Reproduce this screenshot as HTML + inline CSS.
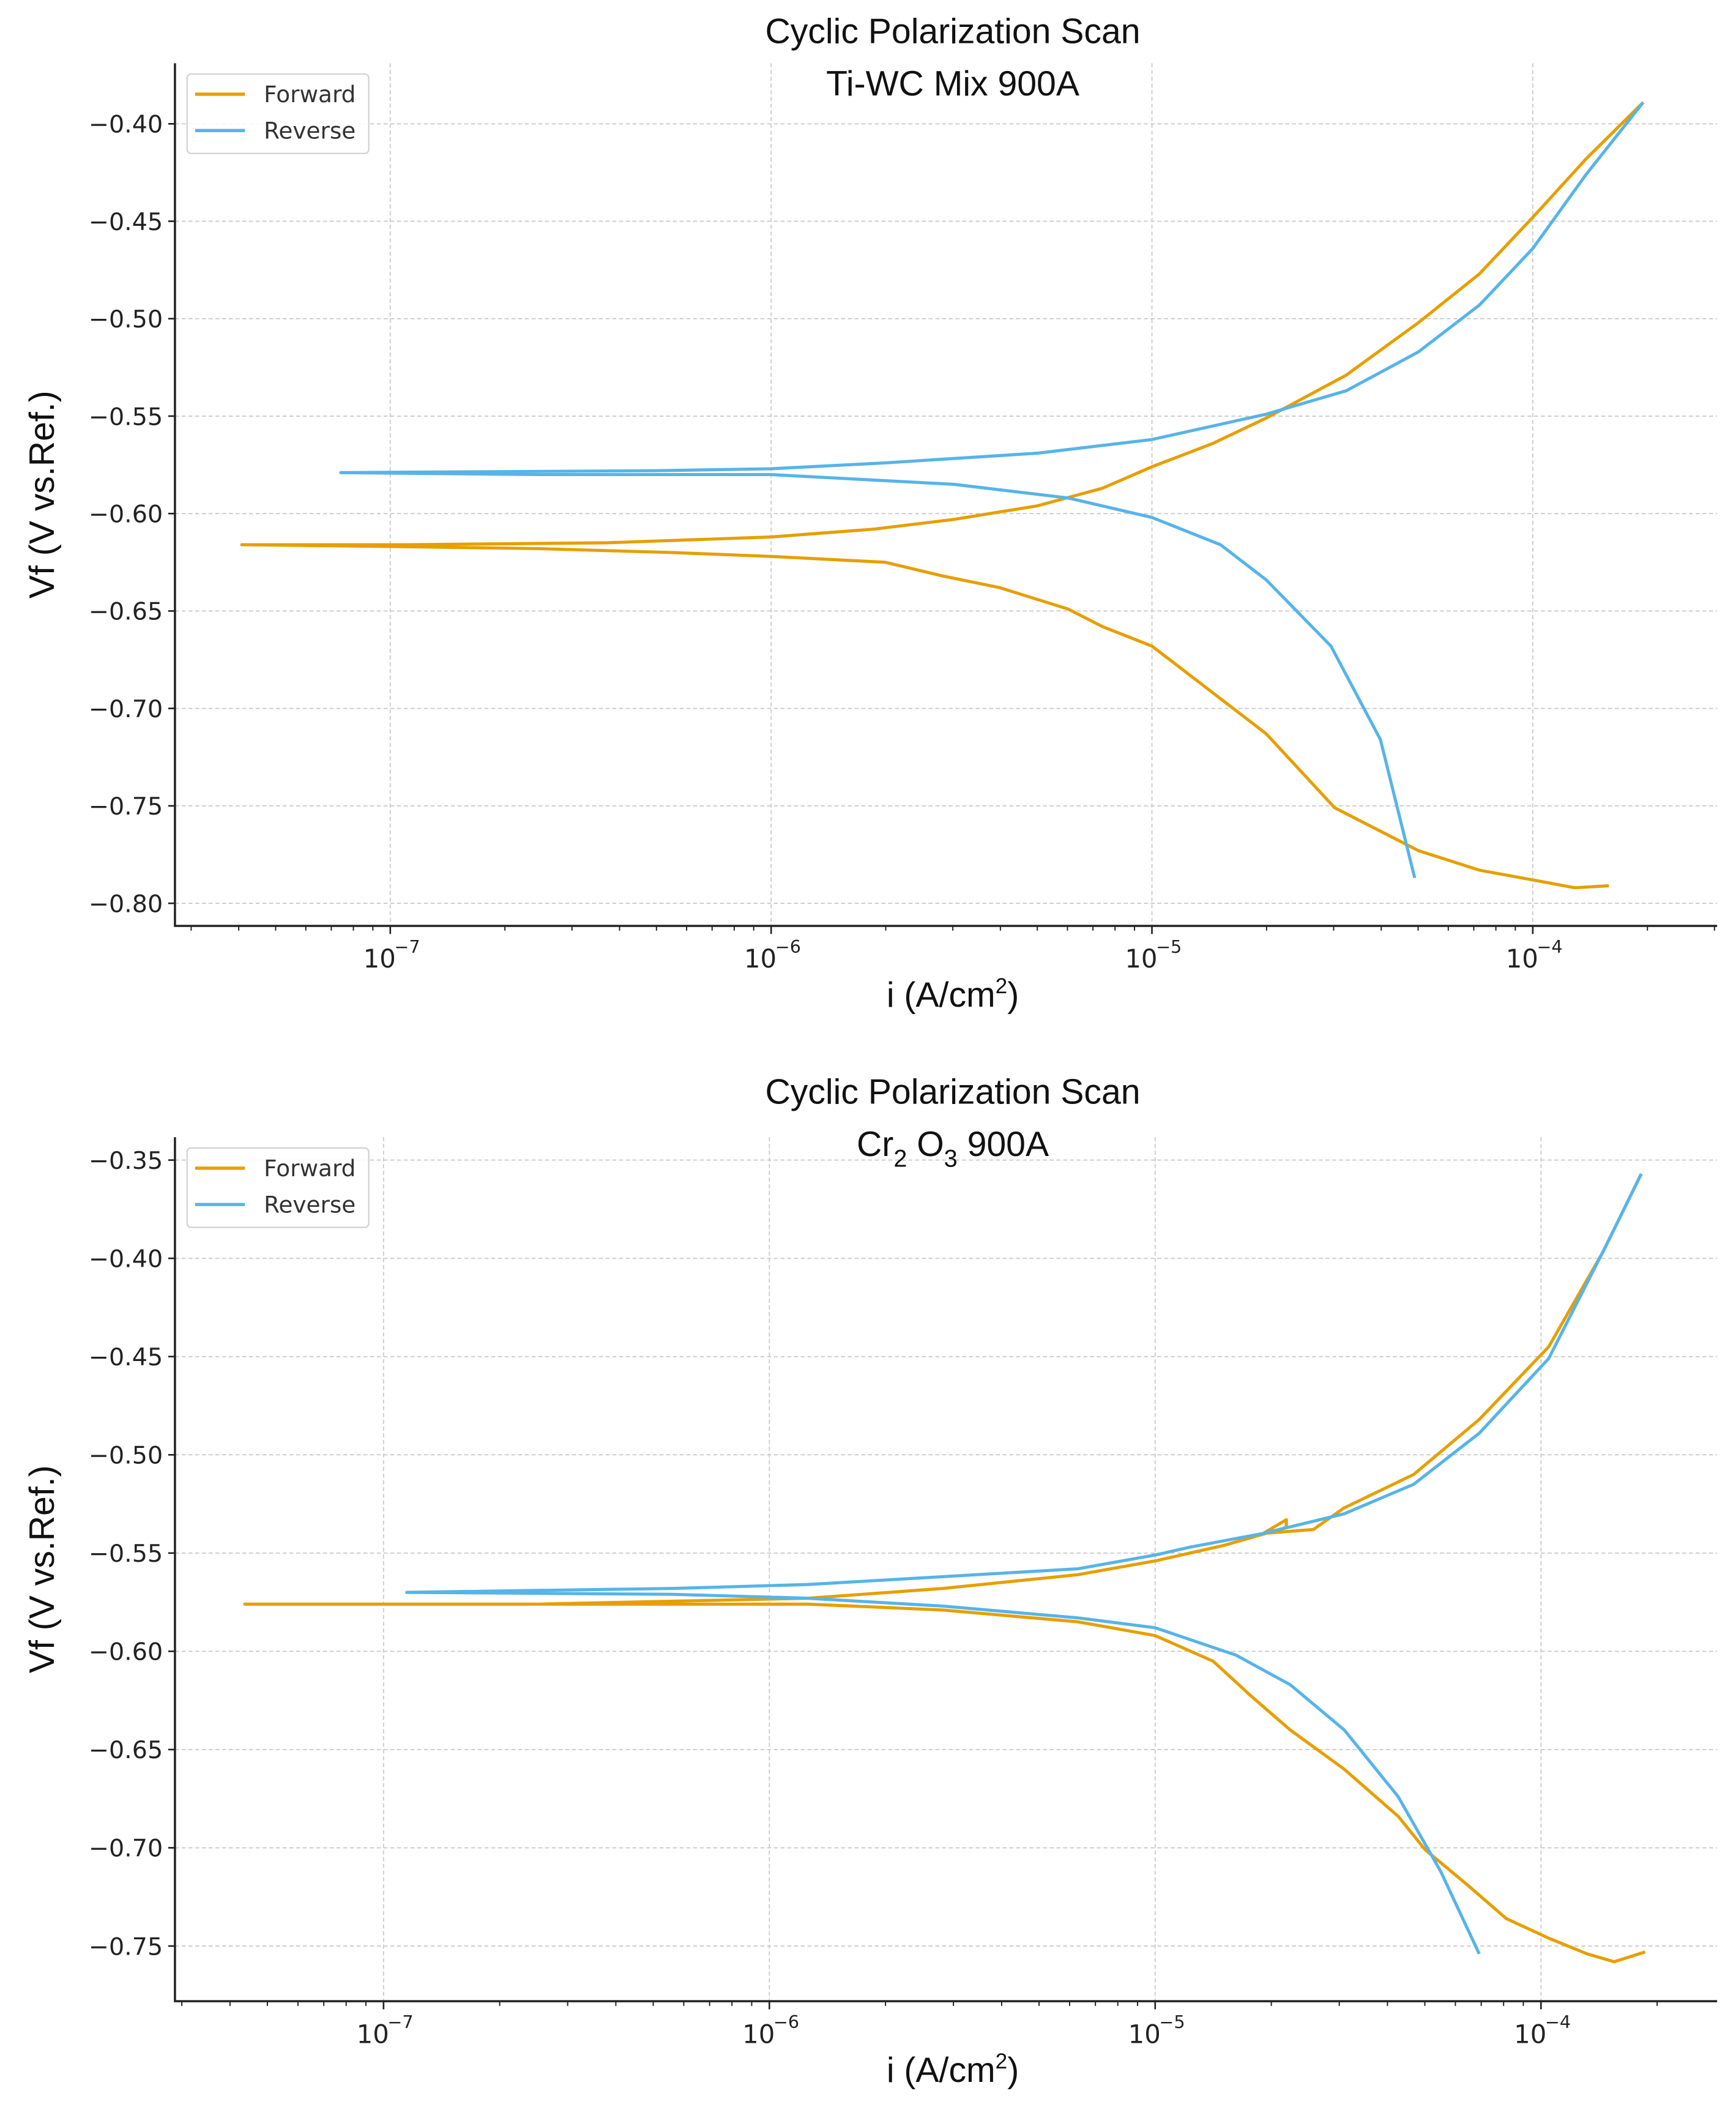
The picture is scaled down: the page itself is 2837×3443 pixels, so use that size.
<!DOCTYPE html>
<html><head><meta charset="utf-8"><style>
html,body{margin:0;padding:0;background:#fff;}
svg{display:block;}
</style></head><body>
<svg id="fig" xmlns="http://www.w3.org/2000/svg" width="2837" height="3443" viewBox="0 0 1290 1565.6" font-family="'DejaVu Sans', 'Liberation Sans', sans-serif">
</svg>
<script>
// ---- Chart 1: Ti-WC Mix 900A (log10 current, potential V) ----
const topFwdLog = [-3.80,-3.89,-4.00,-4.14,-4.30,-4.52,-4.70,-4.84,-5.00,-5.13,-5.22,-5.40,-5.55,-5.70,-6.00,-6.26,-6.61,-6.96,-7.39,-6.96,-6.43,-6.00,-5.73,-5.52,-5.30,-5.13,-5.00,-4.84,-4.70,-4.49,-4.30,-4.14,-4.00,-3.86,-3.71];
const topFwdV = [-0.791,-0.792,-0.788,-0.783,-0.773,-0.751,-0.713,-0.692,-0.668,-0.658,-0.649,-0.638,-0.632,-0.625,-0.622,-0.620,-0.618,-0.617,-0.616,-0.616,-0.615,-0.612,-0.608,-0.603,-0.596,-0.587,-0.576,-0.564,-0.551,-0.529,-0.502,-0.477,-0.448,-0.418,-0.389];
const topRevLog = [-3.71,-3.86,-4.00,-4.14,-4.30,-4.49,-4.70,-5.00,-5.30,-5.70,-6.00,-6.30,-7.13,-6.61,-6.00,-5.52,-5.22,-5.00,-4.82,-4.70,-4.53,-4.40,-4.31];
const topRevV = [-0.389,-0.426,-0.464,-0.493,-0.517,-0.537,-0.549,-0.562,-0.569,-0.574,-0.577,-0.578,-0.579,-0.580,-0.580,-0.585,-0.592,-0.602,-0.616,-0.634,-0.668,-0.716,-0.787];
const topYTicks = [-0.40,-0.45,-0.50,-0.55,-0.60,-0.65,-0.70,-0.75,-0.80];
const topYLabels = ["\u22120.40","\u22120.45","\u22120.50","\u22120.55","\u22120.60","\u22120.65","\u22120.70","\u22120.75","\u22120.80"];
// ---- Chart 2: Cr2O3 900A ----
const botFwdLog = [-3.73,-3.81,-3.88,-3.98,-4.09,-4.19,-4.30,-4.37,-4.51,-4.65,-4.75,-4.85,-5.00,-5.20,-5.55,-5.90,-6.60,-7.36,-6.60,-5.90,-5.55,-5.20,-5.00,-4.82,-4.66,-4.66,-4.72,-4.59,-4.51,-4.33,-4.16,-3.98,-3.84,-3.74];
const botFwdV = [-0.753,-0.758,-0.754,-0.746,-0.736,-0.719,-0.701,-0.684,-0.660,-0.640,-0.623,-0.605,-0.592,-0.585,-0.579,-0.576,-0.576,-0.576,-0.576,-0.573,-0.568,-0.561,-0.554,-0.546,-0.537,-0.533,-0.540,-0.538,-0.527,-0.510,-0.482,-0.445,-0.397,-0.357];
const botRevLog = [-3.74,-3.83,-3.98,-4.16,-4.33,-4.51,-4.72,-4.91,-5.00,-5.20,-5.55,-5.90,-6.25,-6.94,-6.25,-5.90,-5.55,-5.20,-5.00,-4.79,-4.65,-4.51,-4.37,-4.26,-4.16];
const botRevV = [-0.357,-0.393,-0.451,-0.489,-0.515,-0.530,-0.540,-0.547,-0.551,-0.558,-0.562,-0.566,-0.568,-0.570,-0.571,-0.573,-0.577,-0.583,-0.588,-0.602,-0.617,-0.640,-0.674,-0.712,-0.754];
const botYTicks = [-0.35,-0.40,-0.45,-0.50,-0.55,-0.60,-0.65,-0.70,-0.75];
const botYLabels = ["\u22120.35","\u22120.40","\u22120.45","\u22120.50","\u22120.55","\u22120.60","\u22120.65","\u22120.70","\u22120.75"];
const xDecades = [-7,-6,-5,-4];
const xDecadeLabels = ["\u22127","\u22126","\u22125","\u22124"];

const NS = "http://www.w3.org/2000/svg";
const svg = document.getElementById('fig');
function mk(tag, attrs, parent){const e=document.createElementNS(NS,tag);for(const k in attrs)e.setAttribute(k,attrs[k]);(parent||svg).appendChild(e);return e;}

function drawChart(cfg){
  const g = mk('g',{});
  
  
  const X = l => cfg.x0 + (l - cfg.xRef) * cfg.dec;
  const Y = v => cfg.y0 + (cfg.vRef - v) / 0.05 * cfg.step;
  const L=130, R=1276, T=cfg.top, B=cfg.bottom;
  cfg.yTicks.forEach((v,i)=>{
    const y=Y(v);
    const gl=mk('line',{x1:L,x2:R,y1:y,y2:y,stroke:'#c8c8c8','stroke-width':0.8,'stroke-dasharray':'3,2'},g);
    
    
    mk('line',{x1:L-5,x2:L,y1:y,y2:y,stroke:'#222','stroke-width':1.2},g);
    const t=mk('text',{x:L-9,y:y+6.5,'font-size':18,'text-anchor':'end',fill:'#222'},g);
    t.textContent=cfg.yLabels[i];
    
    
  });
  const lmin=cfg.xRef+(L-cfg.x0)/cfg.dec, lmax=cfg.xRef+(R-cfg.x0)/cfg.dec;
  xDecades.forEach((d,i)=>{
    const x=X(d);
    const gl=mk('line',{x1:x,x2:x,y1:T,y2:B,stroke:'#c8c8c8','stroke-width':0.8,'stroke-dasharray':'3,2'},g);
    
    
    mk('line',{x1:x,x2:x,y1:B,y2:B+6,stroke:'#222','stroke-width':1.2},g);
    const t=mk('text',{x:x-8,y:B+31,'font-size':19,'text-anchor':'middle',fill:'#222'},g);
    t.textContent='10';
    
    
    const s=mk('text',{x:x+3,y:B+20,'font-size':13,'text-anchor':'start',fill:'#222'},g);
    s.textContent=xDecadeLabels[i];
  });
  for(let d=-8; d<=-4; d++){
    for(let m=2;m<=9;m++){
      const l=d+Math.log10(m);
      if(l<lmin||l>lmax) continue;
      const x=X(l);
      mk('line',{x1:x,x2:x,y1:B,y2:B+3.5,stroke:'#222','stroke-width':0.9},g);
    }
  }
  const ax=mk('path',{d:`M${L},${T} L${L},${B} L${R},${B}`,fill:'none',stroke:'#222','stroke-width':1.6},g);
  
  
  function series(ls,vs,color,nm){
    const d=ls.map((l,i)=>(i?'L':'M')+X(l).toFixed(2)+','+Y(vs[i]).toFixed(2)).join(' ');
    const p=mk('path',{d:d,fill:'none',stroke:color,'stroke-width':2.3,'stroke-linejoin':'round'},g);
    
    
  }
  series(cfg.fl,cfg.fv,'#E69F00','forward-line');
  series(cfg.rl,cfg.rv,'#56B4E9','reverse-line');
  const lg=mk('g',{},g);
  
  
  mk('rect',{x:139,y:T+8,width:135,height:59,rx:3,fill:'#fff','fill-opacity':0.85,stroke:'#d0d0d0','stroke-width':1},lg);
  [['Forward','#E69F00',T+23],['Reverse','#56B4E9',T+50]].forEach(([n,c,y])=>{
    mk('line',{x1:145,x2:182,y1:y,y2:y,stroke:c,'stroke-width':2.4},lg);
    const t=mk('text',{x:196,y:y+6,'font-size':17,fill:'#333'},lg);
    t.textContent=n;
    
    
  });
  const t1=mk('text',{x:708,y:cfg.titleY,'font-size':26,'text-anchor':'middle',fill:'#111','font-family':"'Liberation Sans', sans-serif"},g);
  t1.textContent='Cyclic Polarization Scan';
  
  
  const t2=mk('text',{x:708,y:cfg.titleY+39,'font-size':26,'text-anchor':'middle',fill:'#111','font-family':"'Liberation Sans', sans-serif"},g);
  t2.innerHTML=cfg.subtitle;
  
  
  const xl=mk('text',{x:708,y:B+60,'font-size':26,'text-anchor':'middle',fill:'#111','font-family':"'Liberation Sans', sans-serif"},g);
  xl.innerHTML='i (A/cm<tspan font-size="16" dy="-10">2</tspan><tspan dy="10">)</tspan>';
  
  
  const cy=(T+B)/2;
  const yl=mk('text',{x:40,y:cy,'font-size':26,'text-anchor':'middle',fill:'#111','font-family':"'Liberation Sans', sans-serif",transform:`rotate(-90 40 ${cy})`},g);
  yl.textContent='Vf (V vs.Ref.)';
  
  
}

drawChart({name:'chart-ti-wc',top:47,bottom:688,x0:290,xRef:-7,dec:283,y0:92,vRef:-0.40,step:72.4,
  yTicks:topYTicks,yLabels:topYLabels,fl:topFwdLog,fv:topFwdV,rl:topRevLog,rv:topRevV,
  titleY:32,subtitle:'Ti-WC Mix 900A'});
drawChart({name:'chart-cr2o3',top:845,bottom:1487,x0:285,xRef:-7,dec:286.7,y0:862,vRef:-0.35,step:73,
  yTicks:botYTicks,yLabels:botYLabels,fl:botFwdLog,fv:botFwdV,rl:botRevLog,rv:botRevV,
  titleY:820,subtitle:'Cr<tspan font-size="18" dy="8">2</tspan><tspan dy="-8"> O</tspan><tspan font-size="18" dy="8">3</tspan><tspan dy="-8"> 900A</tspan>'});
</script>
</body></html>
